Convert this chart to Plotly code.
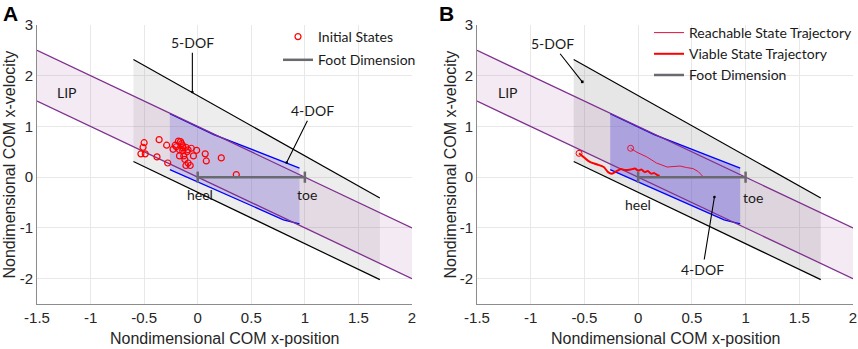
import plotly.graph_objects as go
from plotly.subplots import make_subplots

# ---------------- data ----------------
x_ticks = [-1.5, -1, -0.5, 0, 0.5, 1, 1.5, 2]
x_tick_labels = ["-1.5", "-1", "-0.5", "0", "0.5", "1", "1.5", "2"]
y_ticks = [-2, -1, 0, 1, 2, 3]
y_tick_labels = ["-2", "-1", "0", "1", "2", "3"]

# LIP band
lip_x = [-1.5, 2.0]
lip_upper = [2.5, -1.0]
lip_lower = [1.5, -2.0]

# 5-DOF region
dof5_x = [-0.6, 1.7]
dof5_upper = [2.32, -0.41]
dof5_lower = [0.31, -2.02]

# 4-DOF region
dof4_upper_x = [-0.26, 0.15, 0.95]
dof4_upper_v = [1.25, 0.84, 0.18]
dof4_lower_x = [-0.26, 0.80, 0.95]
dof4_lower_v = [0.15, -0.84, -0.92]

# Foot dimension (heel -> toe)
foot_x = [0.0, 1.0]
foot_v = [0.0, 0.0]

# Panel A: initial states
init_x = [-0.50, -0.51, -0.53, -0.49, -0.36, -0.38, -0.29, -0.28, -0.23, -0.21,
          -0.18, -0.16, -0.14, -0.17, -0.14, -0.11, -0.09, -0.06, -0.01, -0.17,
          -0.13, -0.04, -0.12, -0.09, -0.11, -0.07, 0.07, 0.08, 0.22, 0.36,
          -0.20, -0.14, -0.10, -0.15]
init_v = [0.68, 0.59, 0.46, 0.46, 0.74, 0.40, 0.63, 0.28, 0.55, 0.63,
          0.71, 0.70, 0.62, 0.54, 0.52, 0.59, 0.54, 0.57, 0.53, 0.42,
          0.42, 0.42, 0.35, 0.28, 0.23, 0.23, 0.46, 0.32, 0.38, 0.05,
          0.60, 0.58, 0.50, 0.66]

# Panel B: trajectories
reach_x = [-0.07, -0.01, 0.08, 0.17, 0.27, 0.33, 0.39, 0.45, 0.51, 0.56, 0.60]
reach_v = [0.57, 0.49, 0.40, 0.28, 0.20, 0.21, 0.22, 0.19, 0.17, 0.11, 0.02]

viab_x = [-0.55, -0.51, -0.45, -0.38, -0.32, -0.28, -0.245, -0.20, -0.16, -0.12,
          -0.07, -0.03, 0.00, 0.03, 0.06, 0.09, 0.12, 0.15, 0.18, 0.20]
viab_v = [0.47, 0.40, 0.30, 0.25, 0.20, 0.10, 0.07, 0.12, 0.16, 0.14,
          0.15, 0.17, 0.13, 0.15, 0.10, 0.12, 0.07, 0.08, 0.04, 0.03]

# ---------------- style ----------------
PURPLE = "rgb(126,47,142)"
BLUE = "rgb(0,0,255)"
FOOT = "rgb(105,105,112)"
RED = "rgb(255,0,0)"
TICKFONT = dict(family="Liberation Sans, Arial", size=15, color="#262626")
TITLEFONT = dict(family="Liberation Sans, Arial", size=16, color="#262626")
NOTEFONT = dict(family="Lato, Open Sans", size=14, color="#1a1a1a")

fig = make_subplots(rows=1, cols=2)


def poly(xa, ya, xb, yb):
    return list(xa) + list(xb)[::-1], list(ya) + list(yb)[::-1]


def add_regions(col, gray_alpha, blue_alpha):
    gx, gy = poly(dof5_x, dof5_upper, dof5_x, dof5_lower)
    fig.add_trace(go.Scatter(x=gx, y=gy, fill="toself", mode="none",
                             fillcolor=f"rgba(128,128,128,{gray_alpha})",
                             showlegend=False, hoverinfo="skip"), row=1, col=col)
    lx, ly = poly(lip_x, lip_upper, lip_x, lip_lower)
    fig.add_trace(go.Scatter(x=lx, y=ly, fill="toself", mode="none",
                             fillcolor="rgba(160,80,160,0.12)",
                             showlegend=False, hoverinfo="skip"), row=1, col=col)
    bx, by = poly(dof4_upper_x, dof4_upper_v, dof4_lower_x, dof4_lower_v)
    fig.add_trace(go.Scatter(x=bx, y=by, fill="toself", mode="none",
                             fillcolor=f"rgba(100,90,225,{blue_alpha})",
                             showlegend=False, hoverinfo="skip"), row=1, col=col)
    for xs, vs in [(dof5_x, dof5_upper), (dof5_x, dof5_lower)]:
        fig.add_trace(go.Scatter(x=xs, y=vs, mode="lines",
                                 line=dict(color="black", width=1.2),
                                 showlegend=False, hoverinfo="skip"), row=1, col=col)
    for xs, vs in [(dof4_upper_x, dof4_upper_v), (dof4_lower_x, dof4_lower_v)]:
        fig.add_trace(go.Scatter(x=xs, y=vs, mode="lines",
                                 line=dict(color=BLUE, width=1.3),
                                 showlegend=False, hoverinfo="skip"), row=1, col=col)
    for vs in [lip_upper, lip_lower]:
        fig.add_trace(go.Scatter(x=lip_x, y=vs, mode="lines",
                                 line=dict(color=PURPLE, width=1.3),
                                 showlegend=False, hoverinfo="skip"), row=1, col=col)


# ---- Panel A ----
add_regions(1, 0.14, 0.25)
fig.add_trace(go.Scatter(x=init_x, y=init_v, mode="markers", name="Initial States",
                         marker=dict(symbol="circle-open", size=6, color=RED,
                                     line=dict(width=1.2, color=RED)),
                         legend="legend", legendgroup="a1"), row=1, col=1)
fig.add_trace(go.Scatter(x=foot_x, y=foot_v, mode="lines", name="Foot Dimension",
                         line=dict(color=FOOT, width=2.5),
                         error_y=dict(type="constant", value=0.11, color=FOOT,
                                      thickness=2.5, width=0),
                         legend="legend", legendgroup="a2"), row=1, col=1)

# ---- Panel B ----
add_regions(2, 0.20, 0.40)
fig.add_trace(go.Scatter(x=reach_x, y=reach_v, mode="lines", name="Reachable State Trajectory",
                         line=dict(color="rgb(225,20,60)", width=1),
                         legend="legend2"), row=1, col=2)
fig.add_trace(go.Scatter(x=reach_x[:1], y=reach_v[:1], mode="markers", showlegend=False,
                         marker=dict(symbol="circle-open", size=6, color="rgb(225,20,60)"),
                         hoverinfo="skip"), row=1, col=2)
fig.add_trace(go.Scatter(x=viab_x, y=viab_v, mode="lines", name="Viable State Trajectory",
                         line=dict(color=RED, width=2, shape="spline", smoothing=0.6),
                         legend="legend2"), row=1, col=2)
fig.add_trace(go.Scatter(x=viab_x[:1], y=viab_v[:1], mode="markers", showlegend=False,
                         marker=dict(symbol="circle-open", size=6, color=RED),
                         hoverinfo="skip"), row=1, col=2)
fig.add_trace(go.Scatter(x=foot_x, y=foot_v, mode="lines", name="Foot Dimension",
                         line=dict(color=FOOT, width=2.5),
                         error_y=dict(type="constant", value=0.11, color=FOOT,
                                      thickness=2.5, width=0),
                         legend="legend2"), row=1, col=2)

# ---- axes ----
xdom = [[37 / 858, 412 / 858], [477 / 858, 853 / 858]]
ydom = [(349 - 304) / 349, (349 - 25) / 349]
for i in (1, 2):
    fig.update_xaxes(row=1, col=i, domain=xdom[i - 1], range=[-1.5, 2],
                     tickvals=x_ticks, ticktext=x_tick_labels, tickfont=TICKFONT,
                     showgrid=True, gridcolor="rgb(232,232,232)", gridwidth=1,
                     zeroline=False, showline=True, linecolor="rgb(140,140,140)",
                     linewidth=1, ticks="", automargin=False)
    fig.update_yaxes(row=1, col=i, domain=ydom, range=[-2.5, 3],
                     tickvals=y_ticks, ticktext=y_tick_labels, tickfont=TICKFONT,
                     showgrid=True, gridcolor="rgb(232,232,232)", gridwidth=1,
                     zeroline=False, showline=True, linecolor="rgb(140,140,140)",
                     linewidth=1, ticks="", automargin=False)

# ---- annotations ----
ann = []
for xr in ("x", "x2"):
    ann.append(dict(text="Nondimensional COM x-position", xref=xr + " domain", x=0.5,
                    yref="paper", y=1 - 338 / 349, showarrow=False, font=TITLEFONT,
                    xanchor="center", yanchor="middle"))
ann.append(dict(text="Nondimensional COM x-velocity", xref="paper", x=9 / 858,
                yref="y domain", y=0.5, textangle=-90, showarrow=False, font=TITLEFONT,
                xanchor="center", yanchor="middle"))
ann.append(dict(text="Nondimensional COM x-velocity", xref="paper", x=450 / 858,
                yref="y2 domain", y=0.5, textangle=-90, showarrow=False, font=TITLEFONT,
                xanchor="center", yanchor="middle"))
ann.append(dict(text="<b>A</b>", xref="paper", x=10 / 858, yref="paper", y=1 - 13 / 349,
                showarrow=False, font=dict(family="Liberation Sans, Arial", size=21, color="black"),
                xanchor="center", yanchor="middle"))
ann.append(dict(text="<b>B</b>", xref="paper", x=446 / 858, yref="paper", y=1 - 13 / 349,
                showarrow=False, font=dict(family="Liberation Sans, Arial", size=21, color="black"),
                xanchor="center", yanchor="middle"))

# panel A labels
ann += [
    dict(text="LIP", x=-1.22, y=1.67, xref="x", yref="y", showarrow=False, font=NOTEFONT),
    dict(text="heel", x=0.02, y=-0.35, xref="x", yref="y", showarrow=False, font=NOTEFONT),
    dict(text="toe", x=1.02, y=-0.35, xref="x", yref="y", showarrow=False, font=NOTEFONT),
    dict(text="5-DOF", x=-0.05, y=1.68, ax=-0.05, ay=2.65, xref="x", yref="y",
         axref="x", ayref="y", showarrow=True, arrowhead=6, arrowsize=0.6,
         arrowwidth=1.1, arrowcolor="black", font=NOTEFONT),
    dict(text="4-DOF", x=0.83, y=0.29, ax=1.07, ay=1.31, xref="x", yref="y",
         axref="x", ayref="y", showarrow=True, arrowhead=6, arrowsize=0.6,
         arrowwidth=1.1, arrowcolor="black", font=NOTEFONT),
]
# panel B labels
ann += [
    dict(text="LIP", x=-1.21, y=1.67, xref="x2", yref="y2", showarrow=False, font=NOTEFONT),
    dict(text="heel", x=0.0, y=-0.53, xref="x2", yref="y2", showarrow=False, font=NOTEFONT),
    dict(text="toe", x=1.07, y=-0.41, xref="x2", yref="y2", showarrow=False, font=NOTEFONT),
    dict(text="5-DOF", x=-0.52, y=1.88, ax=-0.8, ay=2.63, xref="x2", yref="y2",
         axref="x2", ayref="y2", showarrow=True, arrowhead=7, arrowsize=0.6,
         arrowwidth=1.1, arrowcolor="black", font=NOTEFONT),
    dict(text="4-DOF", x=0.71, y=-0.39, ax=0.6, ay=-1.82, xref="x2", yref="y2",
         axref="x2", ayref="y2", showarrow=True, arrowhead=6, arrowsize=0.6,
         arrowwidth=1.1, arrowcolor="black", font=NOTEFONT),
]

fig.update_layout(
    width=858, height=349,
    margin=dict(l=0, r=0, t=0, b=0),
    paper_bgcolor="white", plot_bgcolor="rgba(0,0,0,0)",
    annotations=ann,
    legend=dict(x=278 / 858, y=1 - 21 / 349, xanchor="left", yanchor="top",
                bgcolor="rgba(0,0,0,0)", font=NOTEFONT, tracegroupgap=2,
                itemwidth=30),
    legend2=dict(x=649 / 858, y=1 - 17 / 349, xanchor="left", yanchor="top",
                 bgcolor="rgba(0,0,0,0)", font=NOTEFONT, itemwidth=30),
)

fig.write_html(
    "out.html",
    config={"displayModeBar": False},
    post_script="document.body.style.margin='0';document.body.style.overflow='hidden';",
)
